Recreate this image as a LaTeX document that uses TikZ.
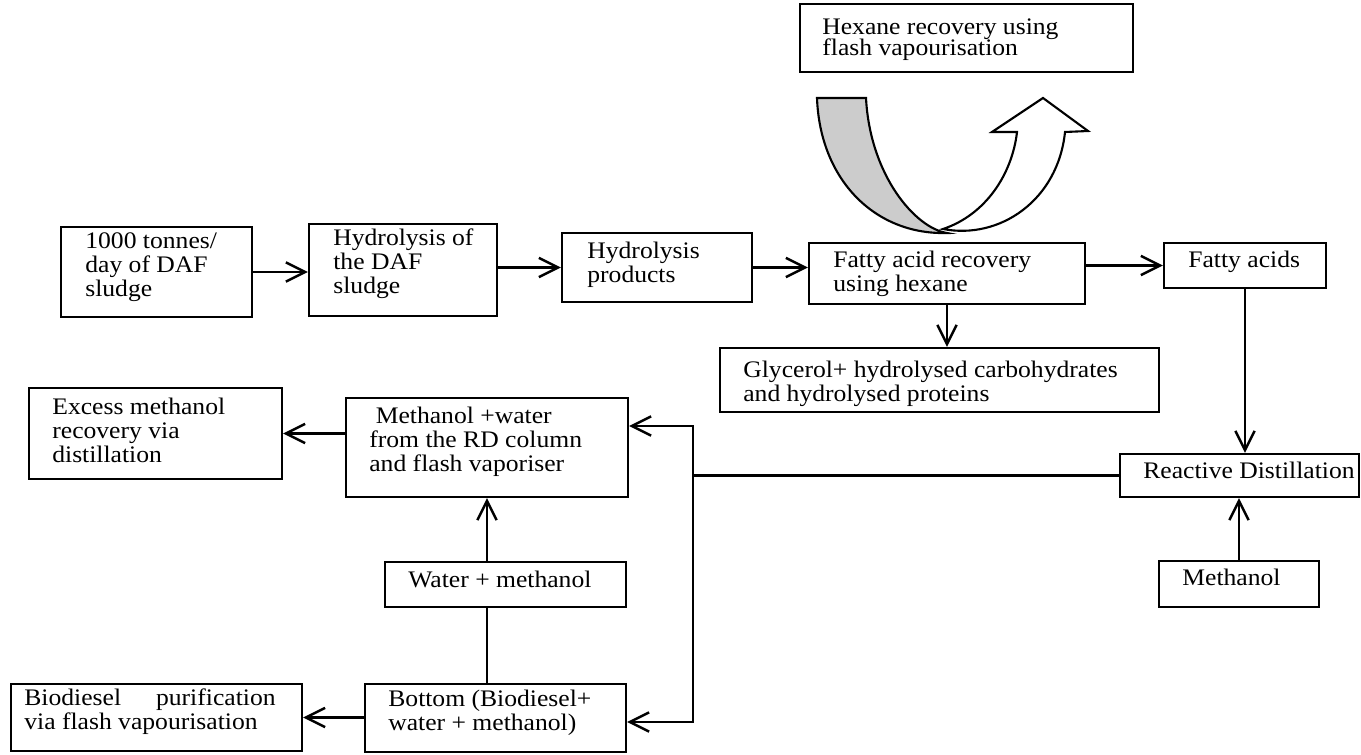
\documentclass[tikz,border=0pt]{standalone}
\usepackage{fontspec}
\setmainfont{Liberation Serif}[FakeStretch=1.08]
\usetikzlibrary{arrows.meta,fit}

\newcommand\flowfont{\fontsize{13.5}{13.7}\selectfont}
\newcommand\stack[1]{\begin{tabular}[t]{@{}l@{}}#1\end{tabular}}

\tikzset{
  block/.style={draw, line width=1.2pt, inner sep=0pt, fill=white},
  blocktext/.style={anchor=base west, inner sep=0pt, font=\flowfont},
  barb/.tip={Straight Barb[length=11pt,width=11pt]},
  flow/.style={line width=1.4pt, -barb},
  twoway/.style={line width=1.4pt, barb-barb},
  link/.style={line width=1.4pt},
}

\begin{document}
\begin{tikzpicture}[x=0.02cm, y=-0.02cm]
    \useasboundingbox (0,0) rectangle (1361,754);
    \fill[white] (0,0) rectangle (1361,754);

    % Boxes
    \node[block, fit={(800,4) (1133,72)}]    (hexane) {};
    \node[block, fit={(61,227) (252,317)}]   (feed)   {};
    \node[block, fit={(309,224) (497,316)}]  (hydro)  {};
    \node[block, fit={(562,233) (752,302)}]  (prod)   {};
    \node[block, fit={(809,243) (1085,304)}] (fatty)  {};
    \node[block, fit={(1164,243) (1326,288)}] (acids) {};
    \node[block, fit={(720,348) (1159,412)}] (glyc)   {};
    \node[block, fit={(1120,454) (1359,497)}] (rd)    {};
    \node[block, fit={(1159,561) (1319,607)}] (meoh)  {};
    \node[block, fit={(29,388) (282,479)}]   (excess) {};
    \node[block, fit={(346,398) (628,497)}]  (mw)     {};
    \node[block, fit={(385,562) (626,607)}]  (water)  {};
    \node[block, fit={(365,684) (626,752)}]  (bottom) {};
    \node[block, fit={(11,684) (302,751)}]   (biod)   {};

    % Box texts
    \node[blocktext] (hexanetext) at (822,34)  {\stack{Hexane recovery using\\[-1.5pt] flash vapourisation}};
    \node[blocktext] (feedtext)   at (85,248)  {\stack{1000 tonnes/\\ day of DAF\\ sludge}};
    \node[blocktext] (hydrotext)  at (333,245) {\stack{Hydrolysis of\\ the DAF\\ sludge}};
    \node[blocktext] (prodtext)   at (587,258) {\stack{Hydrolysis\\ products}};
    \node[blocktext] (fattytext)  at (833,267) {\stack{Fatty acid recovery\\ using hexane}};
    \node[blocktext] (acidstext)  at (1188,267) {Fatty acids};
    \node[blocktext] (glyctext)   at (743,377) {\stack{Glycerol+ hydrolysed carbohydrates\\ and hydrolysed proteins}};
    \node[blocktext] (rdtext)     at (1143,478) {Reactive Distillation};
    \node[blocktext] (meohtext)   at (1182,585) {Methanol};
    \node[blocktext] (excesstext) at (52,414)  {\stack{Excess methanol\\ recovery via\\ distillation}};
    \node[blocktext] (mwtext)     at (369,423) {\stack{\ Methanol +water\\ from the RD column\\ and flash vaporiser}};
    \node[blocktext] (watertext)  at (408,587) {Water + methanol};
    \node[blocktext] (bottomtext) at (388,706) {\stack{Bottom (Biodiesel+\\ water + methanol)}};
    \node[blocktext] (biodtext)   at (24,705)  {\stack{\makebox[143pt][s]{Biodiesel purification}\\ via flash vapourisation}};

    % U-turn arrow (hexane loop)
    \filldraw[fill=gray!40, line width=1.2pt]
        (817,98) .. controls (820,180) and (875,235) .. (947,233)
        .. controls (915,228) and (870,175) .. (866,98) -- cycle;
    \filldraw[fill=white, line width=1.2pt, line join=miter]
        (943,229) .. controls (985,215) and (1012,175) .. (1017,132)
        -- (992,132) -- (1043,98) -- (1088,131) -- (1065,132)
        .. controls (1058,200) and (1000,240) .. (943,229) -- cycle;

    % Main line
    \draw[flow] (feed.east) -- (feed.east -| hydro.west);
    \draw[flow] (hydro.east |- prod.west) -- (prod.west);
    \draw[flow] (prod.east) -- (prod.east -| fatty.west);
    \draw[flow] (fatty.east |- acids.west) -- (acids.west);
    \draw[flow] (fatty.south) -- (fatty.south |- glyc.north);
    \draw[flow] (acids.south) -- (acids.south |- rd.north);
    \draw[flow] (meoh.north) -- (meoh.north |- rd.south);

    % Recycle from the RD column
    \coordinate (rdtop) at (693,426);
    \coordinate (rdbot) at (693,722);
    \draw[link] (rd.west) -- (rd.west -| rdtop);
    \draw[twoway] (mw.east |- rdtop) -- (rdtop) -- (rdbot) -- (bottom.east |- rdbot);

    % Lower left
    \draw[flow] (mw.west |- excess.east) -- (excess.east);
    \draw[flow] (mw.south |- water.north) -- (mw.south);
    \draw[link] (mw.south |- water.south) -- (mw.south |- bottom.north);
    \draw[flow] (bottom.west |- biod.east) -- (biod.east);
\end{tikzpicture}
\end{document}
